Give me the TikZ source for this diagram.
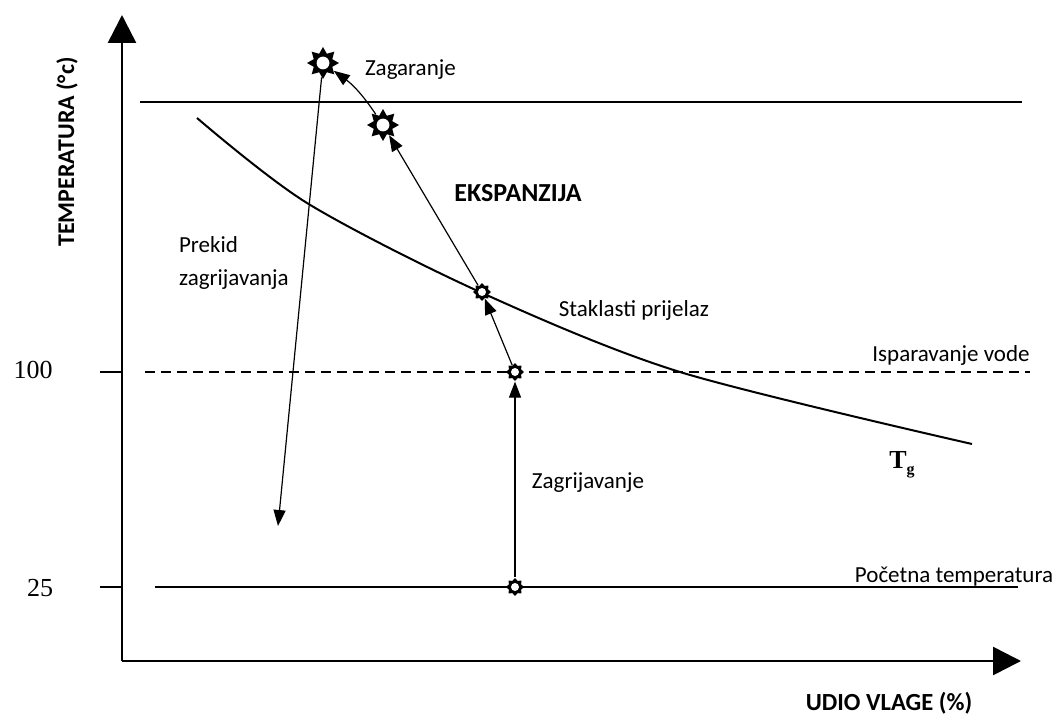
\documentclass[tikz,border=0pt]{standalone}
\usepackage{fontspec}
\setmainfont{Carlito}
\newfontfamily\numfont{Liberation Serif}
\usetikzlibrary{arrows.meta}
\usetikzlibrary{shapes.geometric}

\begin{document}
\begin{tikzpicture}[x=0.5pt,y=-0.5pt,
	every node/.style={font=\fontsize{11.5}{16.5}\selectfont},
	boldlabel/.style={font=\fontsize{13}{15}\selectfont\bfseries},
	numlabel/.style={font=\fontsize{13}{15}\selectfont\numfont},
	axis/.style={line width=1.3pt,-{Triangle[length=14pt,width=14pt]}},
	level/.style={line width=1pt},
	flow/.style={line width=0.6pt,-{Triangle[length=8pt,width=6pt]}},
	sun/.style n args={3}{star,star points=8,star point ratio=#2,fill=black,inner sep=0pt,minimum size=#1,
		path picture={\fill[white] (path picture bounding box.center) circle (#3);}}]
\useasboundingbox (0,0) rectangle (1059,722);

%axes
\coordinate (origin) at (122,661);
\coordinate (ytip) at (122,15);
\coordinate (xtip) at (1021,661);
\draw[axis] (origin) -- (ytip);
\draw[axis] (origin) -- (xtip);
\foreach \y in {372,587}{
	\draw[level] (100,\y) -- (122,\y);
}
\node[numlabel] (t100) at (33,370) {100};
\node[numlabel] (t25) at (40,588) {25};
\node[boldlabel,font=\fontsize{12}{14}\selectfont\bfseries,rotate=90] (ylabel) at (67,152) {TEMPERATURA (°c)};
\node[boldlabel,font=\fontsize{12.3}{14}\selectfont\bfseries] (xlabel) at (889,703) {UDIO VLAGE (\%)};

%levels
\draw[level] (140,102) -- (1022,102);
\draw[line width=0.8pt,dash pattern=on 5pt off 3pt] (145,372) -- (1030,372);
\draw[level] (155,587) -- (1018,587);

%glass transition curve
\draw[line width=1pt] plot[smooth] coordinates {(197,118) (307,203) (480,292) (680,372) (972,444)};

%states
\node[sun={9pt}{1.35}{2pt}] (start) at (515,587) {};
\node[sun={9pt}{1.35}{2pt}] (boil) at (515,372) {};
\node[sun={9pt}{1.35}{2pt}] (glass) at (482,292) {};
\node[sun={16pt}{1.6}{3.2pt}] (expand) at (383,125) {};
\node[sun={16pt}{1.6}{3.2pt}] (ignite) at (323,63) {};
\coordinate (stop) at (278,526);

%transitions
\draw[flow] (start) -- (boil);
\draw[flow] (boil) -- (glass);
\draw[flow] (glass) -- (expand);
\draw[flow] (expand) to[bend right=10] (ignite);
\draw[flow] (ignite) -- (stop);

%labels
\node[anchor=west] (lignite) at (358,70) {Zagaranje};
\node[boldlabel] (lexpand) at (518,193) {EKSPANZIJA};
\node (lglass) at (634,310) {Staklasti prijelaz};
\node (lboil) at (951,355) {Isparavanje vode};
\node (lheat) at (588,483) {Zagrijavanje};
\node[anchor=west,align=left] (lstop) at (172,263) {Prekid\\zagrijavanja};
\node (lstart) at (954,577) {Početna temperatura};
\node[numlabel,font=\fontsize{13}{15}\selectfont\numfont\bfseries] (ltg) at (902,465) {T\raisebox{-0.5ex}{\fontsize{8}{9}\selectfont g}};
\end{tikzpicture}
\end{document}
